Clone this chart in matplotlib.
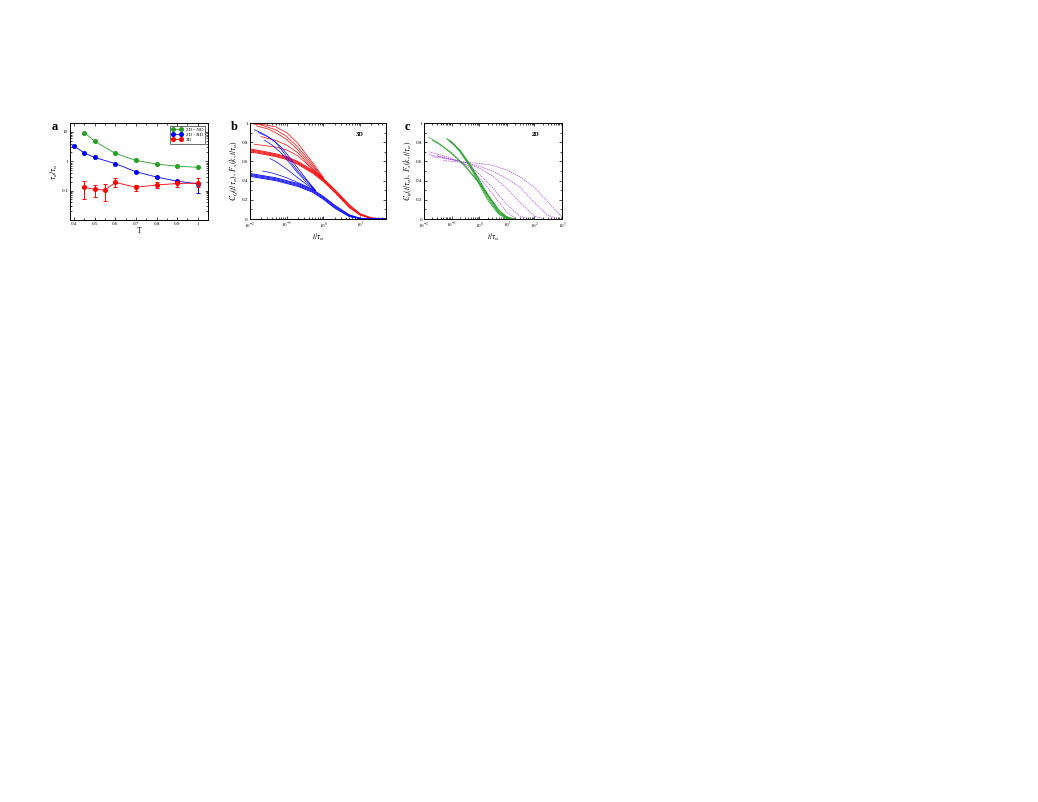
import matplotlib
matplotlib.use('Agg')
import matplotlib.pyplot as plt
from matplotlib.ticker import FixedLocator, LogLocator, NullFormatter, MultipleLocator

plt.rcParams['font.family'] = ['Liberation Serif', 'DejaVu Serif']
plt.rcParams['mathtext.fontset'] = 'stix'

# ---- panel a data ----
T_nd = [0.45, 0.5, 0.6, 0.7, 0.8, 0.9, 1.0]
tau_nd = [9.5, 4.8, 1.85, 1.07, 0.80, 0.68, 0.62]
T_rd = [0.4, 0.45, 0.5, 0.6, 0.7, 0.8, 0.9, 1.0]
tau_rd = [3.3, 1.9, 1.35, 0.83, 0.44, 0.29, 0.21, 0.17]
err_rd_lo = [0, 0, 0, 0, 0, 0.02, 0.02, 0.085]
err_rd_hi = [0, 0, 0, 0, 0, 0.02, 0.02, 0.03]
T_3d = [0.45, 0.5, 0.55, 0.6, 0.7, 0.8, 0.9, 1.0]
tau_3d = [0.13, 0.11, 0.105, 0.19, 0.13, 0.155, 0.175, 0.18]
err_3d_lo = [0.08, 0.05, 0.06, 0.06, 0.03, 0.035, 0.045, 0.05]
err_3d_hi = [0.08, 0.05, 0.065, 0.08, 0.03, 0.045, 0.045, 0.09]

# ---- panel b data (3D) ----
t_master = [0.01, 0.02, 0.05, 0.1, 0.2, 0.5, 1, 2, 5, 10, 20, 50]
red_master = [
    [0.73, 0.71, 0.68, 0.65, 0.60, 0.51, 0.42, 0.31, 0.15, 0.055, 0.012, 0.0],
    [0.72, 0.70, 0.67, 0.64, 0.59, 0.50, 0.41, 0.30, 0.14, 0.050, 0.010, 0.0],
    [0.71, 0.69, 0.66, 0.63, 0.58, 0.49, 0.40, 0.29, 0.13, 0.045, 0.008, 0.0],
    [0.70, 0.68, 0.65, 0.62, 0.57, 0.48, 0.39, 0.28, 0.12, 0.040, 0.006, 0.0],
]
blue_master = [
    [0.475, 0.455, 0.43, 0.40, 0.37, 0.31, 0.235, 0.145, 0.045, 0.008, 0.0, 0.0],
    [0.465, 0.445, 0.42, 0.39, 0.36, 0.30, 0.225, 0.135, 0.038, 0.006, 0.0, 0.0],
    [0.455, 0.435, 0.41, 0.38, 0.35, 0.29, 0.215, 0.125, 0.032, 0.004, 0.0, 0.0],
    [0.445, 0.425, 0.40, 0.37, 0.34, 0.28, 0.205, 0.115, 0.026, 0.003, 0.0, 0.0],
]
red_upper_t = [
    [0.01, 0.02, 0.05, 0.1, 0.2, 0.5, 1],
    [0.012, 0.02, 0.05, 0.1, 0.2, 0.5, 1],
    [0.015, 0.03, 0.05, 0.1, 0.2, 0.5, 1],
    [0.02, 0.03, 0.05, 0.1, 0.2, 0.5, 1],
    [0.013, 0.02, 0.05, 0.1, 0.2, 0.5, 1],
]
red_upper_y = [
    [1.00, 0.99, 0.96, 0.90, 0.79, 0.59, 0.43],
    [0.99, 0.98, 0.93, 0.86, 0.75, 0.57, 0.42],
    [0.97, 0.94, 0.90, 0.83, 0.72, 0.55, 0.42],
    [0.86, 0.84, 0.82, 0.77, 0.69, 0.53, 0.41],
    [0.78, 0.77, 0.75, 0.72, 0.66, 0.52, 0.41],
]
blue_thin_t = [
    [0.013, 0.02, 0.04, 0.07, 0.1, 0.2, 0.35, 0.6],
    [0.017, 0.03, 0.05, 0.1, 0.2, 0.35, 0.6],
    [0.025, 0.04, 0.07, 0.1, 0.2, 0.35, 0.6],
    [0.035, 0.05, 0.1, 0.2, 0.35, 0.6],
    [0.022, 0.04, 0.07, 0.1, 0.2, 0.35, 0.6],
]
blue_thin_y = [
    [0.93, 0.90, 0.83, 0.75, 0.68, 0.53, 0.41, 0.30],
    [0.90, 0.86, 0.80, 0.65, 0.50, 0.40, 0.30],
    [0.82, 0.77, 0.69, 0.62, 0.48, 0.38, 0.30],
    [0.63, 0.60, 0.52, 0.43, 0.36, 0.30],
    [0.50, 0.48, 0.45, 0.43, 0.38, 0.34, 0.29],
]

# ---- panel c data (2D) ----
green_t = [
    [0.015, 0.03, 0.1, 0.3, 1, 2, 5, 10, 20],
    [0.02, 0.04, 0.1, 0.3, 1, 2, 5, 10, 20],
    [0.065, 0.1, 0.2, 0.5, 1, 2, 5, 10, 20],
    [0.07, 0.1, 0.2, 0.5, 1, 2, 5, 10, 20],
    [0.08, 0.1, 0.2, 0.5, 1, 2, 5, 10, 20],
    [0.09, 0.12, 0.2, 0.5, 1, 2, 5, 10, 20],
]
green_y = [
    [0.85, 0.80, 0.69, 0.56, 0.38, 0.26, 0.10, 0.02, 0.0],
    [0.82, 0.77, 0.68, 0.55, 0.37, 0.25, 0.09, 0.02, 0.0],
    [0.84, 0.80, 0.72, 0.56, 0.41, 0.26, 0.08, 0.01, 0.0],
    [0.83, 0.79, 0.71, 0.55, 0.40, 0.24, 0.07, 0.01, 0.0],
    [0.82, 0.80, 0.71, 0.54, 0.38, 0.22, 0.06, 0.01, 0.0],
    [0.81, 0.78, 0.70, 0.53, 0.36, 0.20, 0.05, 0.005, 0.0],
]
purple_t = [
    [0.015, 0.05, 0.2, 0.5, 1, 2, 5, 10, 20],
    [0.015, 0.05, 0.2, 0.5, 1, 3, 10, 30, 60],
    [0.02, 0.1, 0.3, 1, 3, 10, 30, 100, 200],
    [0.03, 0.1, 0.3, 1, 3, 10, 30, 100, 300, 600],
    [0.05, 0.1, 0.3, 1, 3, 10, 30, 100, 300, 1000],
]
purple_y = [
    [0.70, 0.66, 0.60, 0.52, 0.43, 0.33, 0.18, 0.07, 0.01],
    [0.67, 0.64, 0.60, 0.54, 0.47, 0.33, 0.15, 0.03, 0.005],
    [0.65, 0.62, 0.59, 0.53, 0.45, 0.32, 0.17, 0.03, 0.005],
    [0.66, 0.62, 0.59, 0.55, 0.50, 0.42, 0.33, 0.17, 0.04, 0.01],
    [0.61, 0.60, 0.59, 0.58, 0.56, 0.51, 0.44, 0.33, 0.18, 0.02],
]

green = '#22a022'
blue = '#0000ff'
red = '#ff0000'
purple = '#b040e8'
tick_fs = 3.6
lab_fs = 5.5


def style(ax):
    ax.tick_params(which='both', direction='in', top=True, right=True,
                   labelsize=tick_fs, width=0.5, pad=1.5)
    ax.tick_params(which='major', length=2.5)
    ax.tick_params(which='minor', length=1.3)
    for s in ax.spines.values():
        s.set_linewidth(0.7)


fig = plt.figure(figsize=(10.38, 8.02), dpi=100)

# ---- a ----
ax = fig.add_axes([0.0674, 0.7257, 0.133, 0.1209])
ax.plot(T_nd, tau_nd, '-o', color=green, lw=0.6, ms=2.6, label='2D - ND')
# error bars drawn as plain coloured segments, then the line + markers on top
ax.vlines(T_rd, [v - e for v, e in zip(tau_rd, err_rd_lo)],
          [v + e for v, e in zip(tau_rd, err_rd_hi)], colors=blue, lw=0.7)
ax.plot(T_rd, tau_rd, '-o', color=blue, lw=0.6, ms=2.6, label='2D - RD')
ax.vlines(T_3d, [v - e for v, e in zip(tau_3d, err_3d_lo)],
          [v + e for v, e in zip(tau_3d, err_3d_hi)], colors=red, lw=0.7)
for lo_hi in ([v - e for v, e in zip(tau_3d, err_3d_lo)],
              [v + e for v, e in zip(tau_3d, err_3d_hi)]):
    ax.plot(T_3d, lo_hi, ls='none', marker='_', ms=2.5, mew=0.7, color=red)
ax.plot(T_rd[-1:], [tau_rd[-1] - err_rd_lo[-1]], ls='none', marker='_', ms=2.5, mew=0.7, color=blue)
ax.plot(T_3d, tau_3d, '-o', color=red, lw=0.6, ms=2.6, label='3D')
ax.set_yscale('log')
ax.set_xlim(0.38, 1.05)
ax.set_ylim(0.01, 20)
ax.set_xticks([0.4, 0.5, 0.6, 0.7, 0.8, 0.9, 1.0])
ax.set_xticklabels(['0.4', '0.5', '0.6', '0.7', '0.8', '0.9', '1'])
ax.xaxis.set_minor_locator(MultipleLocator(0.05))
ax.yaxis.set_major_locator(FixedLocator([0.1, 1, 10]))
ax.set_yticklabels(['0.1', '1', '10'])
ax.yaxis.set_minor_locator(LogLocator(base=10, subs=range(2, 10)))
ax.yaxis.set_minor_formatter(NullFormatter())
ax.set_xlabel('T', fontsize=lab_fs, labelpad=0.5)
ax.set_ylabel(r'$\tau_d/\tau_\alpha$', fontsize=lab_fs, labelpad=1)
style(ax)
leg = ax.legend(loc='upper right', fontsize=3.6, frameon=True, fancybox=False,
                edgecolor='black', borderpad=0.3, handlelength=2.2, labelspacing=0.1,
                borderaxespad=0.6, numpoints=2)
leg.get_frame().set_linewidth(0.5)
fig.text(0.050, 0.838, 'a', fontsize=9, fontweight='bold')

# ---- b ----
ax = fig.add_axes([0.2408, 0.7269, 0.131, 0.1197])
for y in red_master:
    ax.plot(t_master, y, color=red, lw=0.6)
for t, y in zip(red_upper_t, red_upper_y):
    ax.plot(t, y, color=red, lw=0.5)
for y in blue_master:
    ax.plot(t_master, y, color=blue, lw=0.6)
for t, y in zip(blue_thin_t, blue_thin_y):
    ax.plot(t, y, color=blue, lw=0.5)
ax.set_xscale('log')
ax.set_xlim(0.01, 50)
ax.set_ylim(0, 1)
ax.set_xticks([0.01, 0.1, 1, 10])
ax.set_xticklabels([r'$10^{-2}$', r'$10^{-1}$', r'$10^{0}$', r'$10^{1}$'])
ax.xaxis.set_minor_locator(LogLocator(base=10, subs=range(2, 10)))
ax.xaxis.set_minor_formatter(NullFormatter())
ax.set_yticks([0, 0.2, 0.4, 0.6, 0.8, 1.0])
ax.set_yticklabels(['0', '0.2', '0.4', '0.6', '0.8', '1'])
ax.yaxis.set_minor_locator(MultipleLocator(0.1))
ax.set_xlabel(r'$t/\tau_\alpha$', fontsize=lab_fs, labelpad=0.5)
ax.set_ylabel(r'$C_Q(t/\tau_\alpha),\ F_s(k,t/\tau_\alpha)$', fontsize=lab_fs, labelpad=1)
ax.text(0.78, 0.86, '3D', transform=ax.transAxes, fontsize=4.5, fontweight='bold')
style(ax)
fig.text(0.222, 0.838, 'b', fontsize=9, fontweight='bold')

# ---- c ----
ax = fig.add_axes([0.4085, 0.7269, 0.133, 0.1197])
for t, y in zip(purple_t, purple_y):
    ax.plot(t, y, color=purple, lw=0.5, ls=(0, (2, 1.2)))
for t, y in zip(green_t, green_y):
    ax.plot(t, y, color=green, lw=0.5)
ax.set_xscale('log')
ax.set_xlim(0.01, 1000)
ax.set_ylim(0, 1)
ax.set_xticks([0.01, 0.1, 1, 10, 100, 1000])
ax.set_xticklabels([r'$10^{-2}$', r'$10^{-1}$', r'$10^{0}$', r'$10^{1}$', r'$10^{2}$', r'$10^{3}$'])
ax.xaxis.set_minor_locator(LogLocator(base=10, subs=range(2, 10)))
ax.xaxis.set_minor_formatter(NullFormatter())
ax.set_yticks([0, 0.2, 0.4, 0.6, 0.8, 1.0])
ax.set_yticklabels(['0', '0.2', '0.4', '0.6', '0.8', '1'])
ax.yaxis.set_minor_locator(MultipleLocator(0.1))
ax.set_xlabel(r'$t/\tau_\alpha$', fontsize=lab_fs, labelpad=0.5)
ax.set_ylabel(r'$C_\psi(t/\tau_\alpha),\ F_s(k,t/\tau_\alpha)$', fontsize=lab_fs, labelpad=1)
ax.text(0.78, 0.86, '2D', transform=ax.transAxes, fontsize=4.5, fontweight='bold')
style(ax)
fig.text(0.390, 0.838, 'c', fontsize=9, fontweight='bold')

fig.savefig('out.png', dpi=100)
